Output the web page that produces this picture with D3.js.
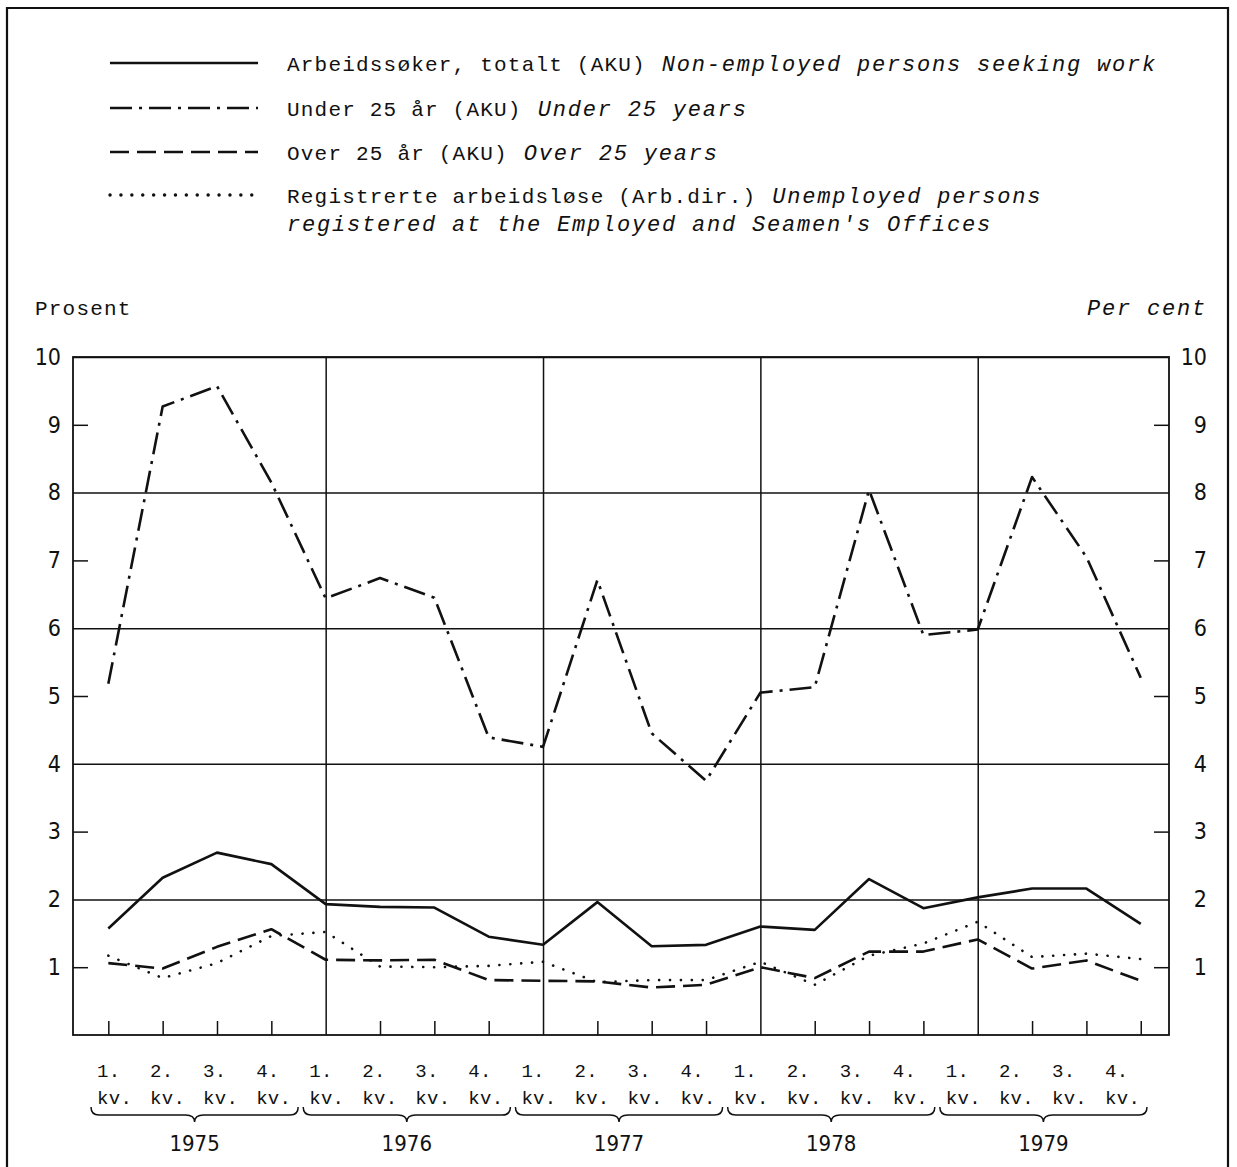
<!DOCTYPE html>
<html>
<head>
<meta charset="utf-8">
<script src="https://cdn.jsdelivr.net/npm/d3@7"></script>
<style>
  body { margin: 0; background: #fff; }
  svg { display: block; }
  .mono { font-family: "Liberation Mono", "DejaVu Sans Mono", monospace; fill: #111; }
  .num { font-family: "Liberation Sans Narrow", "DejaVu Sans Condensed", sans-serif; fill: #111; }
  .grid line, .ticks line { stroke: #111; stroke-width: 1.5; }
  .grid path, .ticks path, .labels path { display: none; }
  .series { fill: none; stroke: #111; stroke-width: 2.6; stroke-linejoin: round; }
</style>
</head>
<body>
<div id="chart"></div>
<script>
// Data (per cent, quarterly 1975-1979)
var years = [1975, 1976, 1977, 1978, 1979];
var quarters = ["1.", "2.", "3.", "4."];
var yTicks = [1, 2, 3, 4, 5, 6, 7, 8, 9, 10];

var total      = [1.57, 2.32, 2.69, 2.52, 1.93, 1.89, 1.88, 1.45, 1.33, 1.96, 1.31, 1.33, 1.60, 1.55, 2.30, 1.87, 2.03, 2.16, 2.16, 1.64];
var under25    = [5.18, 9.27, 9.57, 8.15, 6.44, 6.74, 6.45, 4.39, 4.25, 6.71, 4.45, 3.75, 5.05, 5.13, 8.04, 5.90, 5.98, 8.23, 7.05, 5.27];
var over25     = [1.06, 0.98, 1.30, 1.56, 1.11, 1.10, 1.11, 0.81, 0.80, 0.79, 0.70, 0.74, 1.00, 0.84, 1.23, 1.23, 1.41, 0.98, 1.10, 0.80];
var registered = [1.17, 0.84, 1.06, 1.46, 1.52, 1.01, 1.00, 1.02, 1.08, 0.78, 0.81, 0.81, 1.08, 0.74, 1.17, 1.35, 1.67, 1.15, 1.20, 1.12];

var legendNo = [
  "Arbeidssøker, totalt (AKU)",
  "Under 25 år (AKU)",
  "Over 25 år (AKU)",
  "Registrerte arbeidsløse (Arb.dir.)"
];
var legendEn = [
  "Non-employed persons seeking work",
  "Under 25 years",
  "Over 25 years",
  "Unemployed persons"
];
var legendEn2 = "registered at the Employed and Seamen's Offices";

var seriesList = [
  { values: total, dash: null },
  { values: under25, dash: "22,7,3,7" },
  { values: over25, dash: "19,8" },
  { values: registered, dash: "0.1,10.8", cap: "round", width: 3.4 }
];

var width = 1237, height = 1167;
var plot = { left: 73, right: 1169, top: 357, bottom: 1035 };

var svg = d3.select("#chart").append("svg")
  .attr("width", width)
  .attr("height", height);

svg.append("rect").attr("width", width).attr("height", height).attr("fill", "#fff");

// Outer frame (open at the bottom)
svg.append("path")
  .attr("d", "M7," + height + "V8H1228V" + height)
  .attr("fill", "none")
  .attr("stroke", "#111")
  .attr("stroke-width", 2.2);

// Scales
var n = total.length;
var xScale = d3.scaleLinear().domain([-0.65, n - 0.48]).range([plot.left, plot.right]);
var yScale = d3.scaleLinear().domain([0, 10]).range([plot.bottom, plot.top]);
var labelScale = d3.scaleLinear().domain([0, n - 1]).range([97, 1105]);

var evenTicks = yTicks.filter(d => d % 2 == 0);
var oddTicks = yTicks.filter(d => d % 2 == 1);
var plotW = plot.right - plot.left;
var plotH = plot.bottom - plot.top;

// Horizontal grid
svg.append("g").attr("class", "grid")
  .attr("transform", "translate(" + plot.left + ",0)")
  .call(d3.axisLeft(yScale).tickValues(evenTicks).tickSize(-plotW).tickFormat(""));

// Short ticks on both sides
svg.append("g").attr("class", "ticks")
  .attr("transform", "translate(" + plot.left + ",0)")
  .call(d3.axisLeft(yScale).tickValues(oddTicks).tickSize(-15).tickFormat(""));
svg.append("g").attr("class", "ticks")
  .attr("transform", "translate(" + plot.right + ",0)")
  .call(d3.axisRight(yScale).tickValues(oddTicks).tickSize(-15).tickFormat(""));

// Vertical grid at year starts, short quarter ticks
var yearStarts = d3.range(4, n, 4);
var quarterTicks = d3.range(n).filter(i => i == 0 || i % 4 != 0);
svg.append("g").attr("class", "grid")
  .attr("transform", "translate(0," + plot.bottom + ")")
  .call(d3.axisBottom(xScale).tickValues(yearStarts).tickSize(-plotH).tickFormat(""));
svg.append("g").attr("class", "ticks")
  .attr("transform", "translate(0," + plot.bottom + ")")
  .call(d3.axisBottom(xScale).tickValues(quarterTicks).tickSize(-14).tickFormat(""));

// Plot border
svg.append("rect")
  .attr("x", plot.left).attr("y", plot.top)
  .attr("width", plotW).attr("height", plotH)
  .attr("fill", "none").attr("stroke", "#111").attr("stroke-width", 1.8);

// Y labels
var leftLabels = svg.append("g").attr("class", "labels num")
  .attr("transform", "translate(" + plot.left + ",0)")
  .call(d3.axisLeft(yScale).tickValues(yTicks).tickSize(0).tickPadding(12));
leftLabels.selectAll("text").attr("class", "num").style("font-size", "23px").attr("fill", "#111");

var rightLabels = svg.append("g").attr("class", "labels")
  .attr("transform", "translate(" + plot.right + ",0)")
  .call(d3.axisRight(yScale).tickValues(yTicks).tickSize(0));
rightLabels.selectAll("text").attr("class", "num").style("font-size", "23px")
  .attr("fill", "#111").attr("text-anchor", "end").attr("x", 38);

svg.append("text").attr("class", "mono")
  .attr("x", 35).attr("y", 315)
  .style("font-size", "21px").style("letter-spacing", "1.2px")
  .text("Prosent");
svg.append("text").attr("class", "mono")
  .attr("x", 1207).attr("y", 315).attr("text-anchor", "end")
  .style("font-size", "22px").style("font-style", "italic").style("letter-spacing", "1.8px")
  .text("Per cent");

// Series
var line = d3.line()
  .x((d, i) => xScale(i))
  .y(d => yScale(d));

svg.append("g").selectAll("path")
  .data(seriesList)
  .enter()
  .append("path")
  .attr("class", "series")
  .attr("d", d => line(d.values))
  .attr("stroke-dasharray", d => d.dash)
  .attr("stroke-linecap", d => d.cap || "butt")
  .attr("stroke-width", d => d.width || 2.6);

// Quarter labels
var qLabels = svg.append("g").attr("class", "mono").style("font-size", "19px").style("letter-spacing", "0.3px");
qLabels.selectAll("text.q")
  .data(d3.range(n))
  .enter()
  .append("text")
  .attr("x", i => labelScale(i))
  .attr("y", 1077)
  .text(i => quarters[i % 4]);
qLabels.selectAll("text.kv")
  .data(d3.range(n))
  .enter()
  .append("text")
  .attr("x", i => labelScale(i))
  .attr("y", 1104)
  .text("kv.");

// Year braces
var braceY = 1115;
years.forEach(function(yr, k) {
  var x0 = labelScale(k * 4) - 6;
  var x1 = labelScale(k * 4 + 3) + 42;
  var mid = (x0 + x1) / 2;
  var p = d3.path();
  p.moveTo(x0, braceY - 8);
  p.quadraticCurveTo(x0, braceY, x0 + 8, braceY);
  p.lineTo(mid - 9, braceY);
  p.quadraticCurveTo(mid, braceY, mid, braceY + 7);
  p.quadraticCurveTo(mid, braceY, mid + 9, braceY);
  p.lineTo(x1 - 8, braceY);
  p.quadraticCurveTo(x1, braceY, x1, braceY - 8);
  svg.append("path").attr("d", p.toString())
    .attr("fill", "none").attr("stroke", "#111").attr("stroke-width", 1.5);
  svg.append("text").attr("class", "num")
    .attr("x", mid).attr("y", 1151).attr("text-anchor", "middle")
    .style("font-size", "22px")
    .text(yr);
});

// Legend
var legendRows = [63, 108, 152, 195];
var legend = svg.append("g");
legendRows.forEach(function(ly, i) {
  var s = seriesList[i];
  legend.append("line")
    .attr("x1", 110).attr("x2", 258).attr("y1", ly).attr("y2", ly)
    .attr("stroke", "#111")
    .attr("stroke-width", s.width || 2.6)
    .attr("stroke-dasharray", s.dash)
    .attr("stroke-linecap", s.cap || "butt");
  var t = legend.append("text").attr("class", "mono")
    .attr("x", 287).attr("y", ly + 8)
    .style("font-size", "21px").style("letter-spacing", "1.2px")
    .text(legendNo[i]);
  var w = t.node().getComputedTextLength();
  legend.append("text").attr("class", "mono")
    .attr("x", 287 + w + 16).attr("y", ly + 8)
    .style("font-size", "22px").style("font-style", "italic").style("letter-spacing", "1.8px")
    .text(legendEn[i]);
});
legend.append("text").attr("class", "mono")
  .attr("x", 287).attr("y", 231)
  .style("font-size", "22px").style("font-style", "italic").style("letter-spacing", "1.8px")
  .text(legendEn2);
</script>
</body>
</html>
